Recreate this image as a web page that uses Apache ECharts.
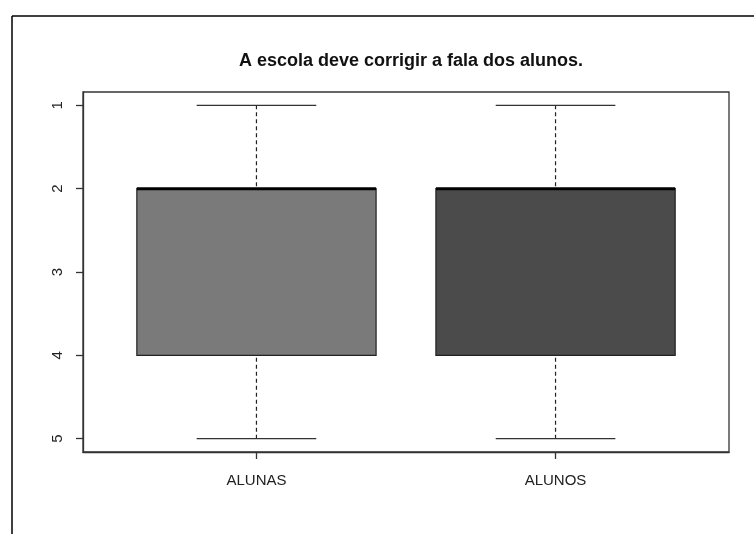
<!DOCTYPE html>
<html>
<head>
<meta charset="utf-8">
<script src="https://cdn.jsdelivr.net/npm/echarts@6/dist/echarts.min.js"></script>
<style>
  html, body { margin: 0; padding: 0; background: #fff; }
  #chart { width: 754px; height: 534px; }
</style>
</head>
<body>
<div id="chart"></div>
<script>
// dados do boxplot
const categories = ["ALUNAS", "ALUNOS"];
const whiskerLow = [1, 1];
const quartile1 = [2, 2];
const medians = [2, 2];
const quartile3 = [4, 4];
const whiskerHigh = [5, 5];
const boxColors = ["#7a7a7a", "#4b4b4b"];
const yTicks = [1, 2, 3, 4, 5];
const xTicks = [1, 2];

const chart = echarts.init(document.getElementById("chart"));

const boxData = categories.map((c, i) => [
  i + 1, whiskerLow[i], quartile1[i], medians[i], quartile3[i], whiskerHigh[i]
]);

// desenha cada caixa (estilo R)
function renderBox(params, api) {
  const x = api.value(0);
  const idx = params.dataIndex;
  const boxHalf = 0.4, capHalf = 0.2;
  const p = (xx, yy) => api.coord([xx, yy]);
  const lo = api.value(1), q1 = api.value(2), med = api.value(3), q3 = api.value(4), hi = api.value(5);
  const dash = { stroke: "#222", lineWidth: 1.2, lineDash: [4, 3] };
  const solid = { stroke: "#333", lineWidth: 1.3 };
  const tl = p(x - boxHalf, q1), br = p(x + boxHalf, q3);
  return {
    type: "group",
    children: [
      { type: "line", shape: { x1: p(x, hi)[0], y1: p(x, hi)[1], x2: p(x, q3)[0], y2: p(x, q3)[1] }, style: dash },
      { type: "line", shape: { x1: p(x, lo)[0], y1: p(x, lo)[1], x2: p(x, q1)[0], y2: p(x, q1)[1] }, style: dash },
      { type: "line", shape: { x1: p(x - capHalf, lo)[0], y1: p(x, lo)[1], x2: p(x + capHalf, lo)[0], y2: p(x, lo)[1] }, style: solid },
      { type: "line", shape: { x1: p(x - capHalf, hi)[0], y1: p(x, hi)[1], x2: p(x + capHalf, hi)[0], y2: p(x, hi)[1] }, style: solid },
      { type: "rect", shape: { x: tl[0], y: Math.min(tl[1], br[1]), width: br[0] - tl[0], height: Math.abs(br[1] - tl[1]) },
        style: { fill: boxColors[idx], stroke: "#222", lineWidth: 1.2 } },
      { type: "line", shape: { x1: p(x - boxHalf, med)[0], y1: p(x, med)[1], x2: p(x + boxHalf, med)[0], y2: p(x, med)[1] },
        style: { stroke: "#000", lineWidth: 3 } }
    ]
  };
}

chart.setOption({
  animation: false,
  backgroundColor: "#fff",
  title: {
    text: "A escola deve corrigir a fala dos alunos.",
    left: 406,
    textAlign: "center",
    top: 47,
    textStyle: { fontFamily: "Liberation Sans", fontSize: 18, fontWeight: "bold", color: "#111" }
  },
  grid: {
    left: 83, right: 25, top: 92, bottom: 82,
    show: true, borderColor: "#333", borderWidth: 1.3, backgroundColor: "transparent"
  },
  xAxis: {
    type: "value",
    min: 0.42, max: 2.58,
    splitLine: { show: false },
    axisLine: { show: true, onZero: false, lineStyle: { color: "#333", width: 1.3 } },
    axisTick: { show: true, customValues: xTicks, length: 7, lineStyle: { color: "#333", width: 1.3 } },
    axisLabel: {
      customValues: xTicks,
      formatter: v => categories[Math.round(v) - 1] || "",
      margin: 21,
      fontFamily: "Liberation Sans", fontSize: 15, color: "#222"
    }
  },
  yAxis: {
    type: "value",
    inverse: true,
    min: 0.84, max: 5.16,
    splitLine: { show: false },
    axisLine: { show: true, lineStyle: { color: "#333", width: 1.3 } },
    axisTick: { show: true, customValues: yTicks, length: 7, lineStyle: { color: "#333", width: 1.3 } },
    axisLabel: {
      customValues: yTicks,
      rotate: 90,
      margin: 18,
      fontFamily: "Liberation Sans", fontSize: 15, color: "#222"
    }
  },
  graphic: [
    { type: "line", shape: { x1: 12, y1: 16, x2: 12, y2: 534 }, style: { stroke: "#000", lineWidth: 1.5 } },
    { type: "line", shape: { x1: 12, y1: 16, x2: 754, y2: 16 }, style: { stroke: "#000", lineWidth: 1.5 } }
  ],
  series: [{
    type: "custom",
    renderItem: renderBox,
    encode: { x: 0, y: [1, 2, 3, 4, 5] },
    data: boxData
  }]
});
</script>
</body>
</html>
